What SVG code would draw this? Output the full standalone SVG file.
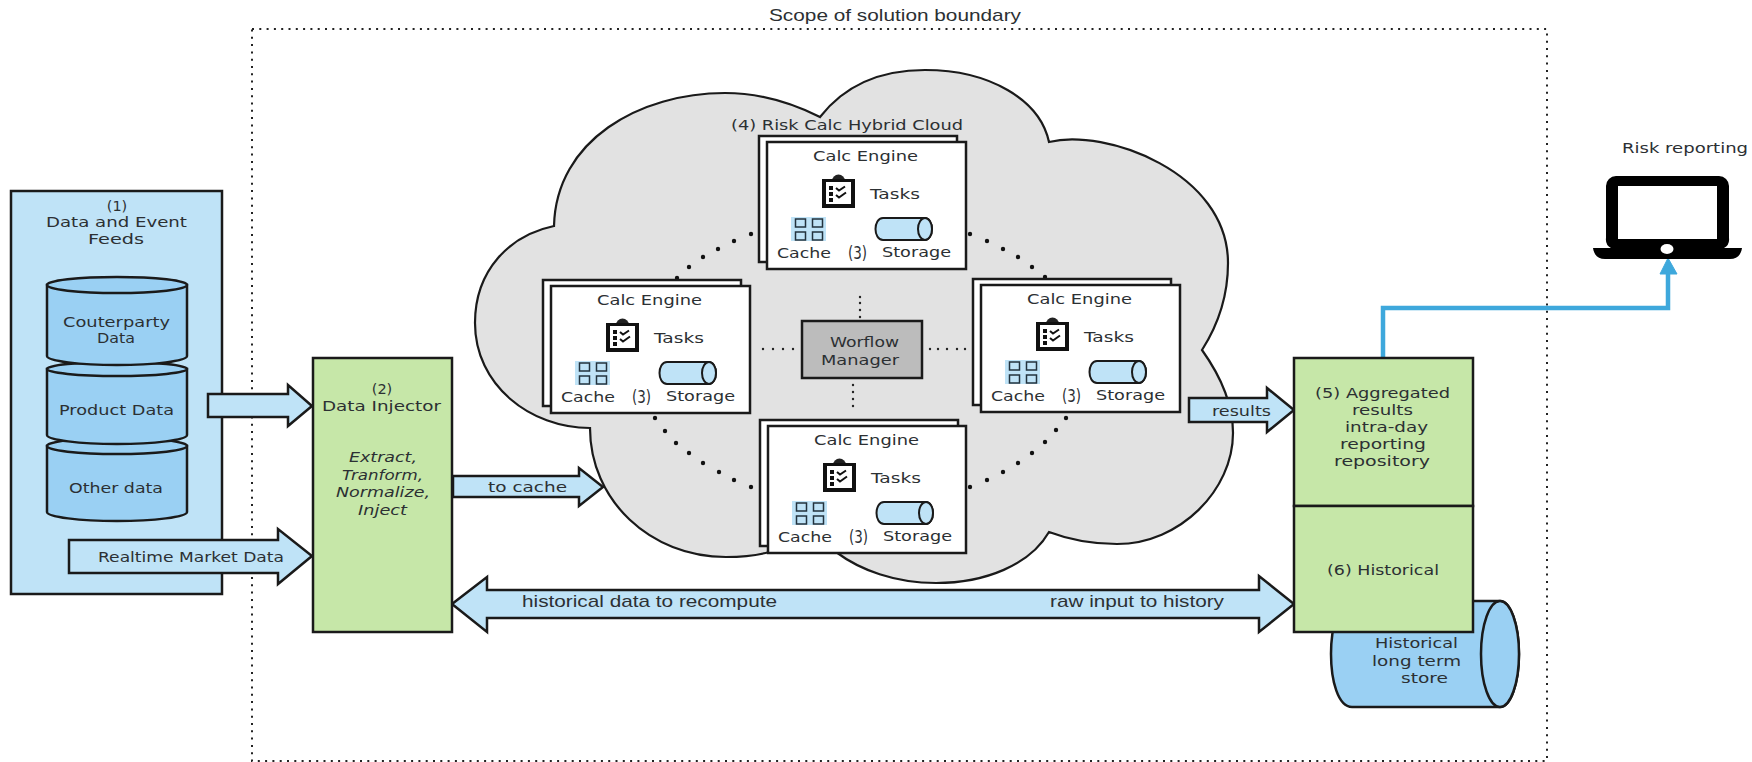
<svg xmlns="http://www.w3.org/2000/svg" xmlns:xlink="http://www.w3.org/1999/xlink" width="1752" height="762" viewBox="0 0 1752 762">
<style>
text{font-family:"DejaVu Sans","Liberation Sans",sans-serif;font-size:14.500px;fill:#2c3033}
.l{font-family:"Liberation Sans",Arial,sans-serif;font-size:17px}
.i{font-style:italic}
.n{font-size:17px}
.box{stroke:#1a1a1a;stroke-width:2.500}
.blue{fill:#bfe3f7}.cyl{fill:#9ad0f3;stroke:#1a1a1a;stroke-width:2.500}
.green{fill:#c6e7a8}.white{fill:#fff}
.arrow{fill:#bfe3f7;stroke:#1a1a1a;stroke-width:2.500;stroke-linejoin:miter}
.big circle{r:2.200px;fill:#111}.small circle{r:1.200px;fill:#222}
</style>
<defs>
<g id="clip">
<circle cx="16.500" cy="6" r="6.500" fill="#222"/>
<rect x="0" y="4" width="33" height="29" fill="#111"/>
<rect x="4" y="7" width="25" height="22" fill="#fff"/>
<path d="M7 11h4v4h-4zM7 17h4v4h-4zM7 23h4v4h-4z" fill="#111"/>
<path d="M14 13l3 2.500 6-4M14 20l3 2.500 7-5" fill="none" stroke="#111" stroke-width="2"/>
</g>
<g id="cache">
<rect width="35" height="24" fill="#bfe3f7"/>
<path d="M4.500 2h10v8h-10zM21.500 2h10v8h-10zM4.500 15h10v8h-10zM21.500 15h10v8h-10z" fill="none" stroke="#23333e" stroke-width="1.500"/>
</g>
<g id="store">
<path d="M8 0H50A7 11 0 0 1 50 22H8C-2 22 -2 0 8 0Z" fill="#bfe3f7" stroke="#1a1a1a" stroke-width="2"/>
<ellipse cx="50" cy="11" rx="7" ry="11" fill="#bfe3f7" stroke="#1a1a1a" stroke-width="2"/>
</g>
</defs>
<rect width="1752" height="762" fill="#fff"/>

<g id="boundary">
<rect x="252" y="29" width="1295" height="732" fill="none" stroke="#222" stroke-width="2" stroke-dasharray="2 5.300"/>
<text class="l" x="769" y="21" textLength="252" lengthAdjust="spacingAndGlyphs">Scope of solution boundary</text>
</g>

<g id="feeds">
<rect class="box blue" x="11" y="191" width="211" height="403"/>
<text x="117" y="211" text-anchor="middle">(1)</text>
<text x="46" y="227" textLength="141" lengthAdjust="spacingAndGlyphs">Data and Event</text>
<text x="88" y="244" textLength="56" lengthAdjust="spacingAndGlyphs">Feeds</text>
</g>
<g id="db-other">
<path class="cyl" d="M47 446V512C47 517 80 521 117 521S187 517 187 512V446Z"/>
<ellipse class="cyl" cx="117" cy="446" rx="70" ry="8"/>
<text x="69" y="493" textLength="94" lengthAdjust="spacingAndGlyphs">Other data</text>
</g>
<g id="db-product">
<path class="cyl" d="M47 369V435C47 440 80 444 117 444S187 440 187 435V369Z"/>
<ellipse class="cyl" cx="117" cy="369" rx="70" ry="7"/>
<text x="59" y="415" textLength="115" lengthAdjust="spacingAndGlyphs">Product Data</text>
</g>
<g id="db-counterparty">
<path class="cyl" d="M47 285V356C47 361 80 365 117 365S187 361 187 356V285Z"/>
<ellipse class="cyl" cx="117" cy="285" rx="70" ry="8"/>
<text x="63" y="327" textLength="107" lengthAdjust="spacingAndGlyphs">Couterparty</text>
<text x="97" y="343" textLength="38" lengthAdjust="spacingAndGlyphs">Data</text>
</g>

<g id="cloud">
<path fill="#e2e2e2" stroke="#1a1a1a" stroke-width="2.200" d="M554 226C556 140 640 93 725 93C760 93 790 102 820 117C845 85 880 70 925 70C990 70 1040 100 1049 142C1105 128 1228 172 1228 263C1228 295 1218 325 1202 350C1222 378 1233 405 1233 433C1233 490 1180 544 1117 544C1094 544 1070 540 1049 532C1030 565 985 583 936 583C895 583 860 570 836 552L790 530L769 552C755 556 740 557 726 557C650 557 590 500 590 428C530 428 475 385 475 323C475 270 510 235 554 226Z"/>
<text x="731" y="130" textLength="232" lengthAdjust="spacingAndGlyphs">(4) Risk Calc Hybrid Cloud</text>
</g>

<g id="connectors">
<g class="big">
<circle cx="751" cy="234"/><circle cx="734" cy="241"/><circle cx="718" cy="249"/><circle cx="703" cy="257"/><circle cx="689" cy="267"/><circle cx="677" cy="278"/>
<circle cx="970" cy="234"/><circle cx="987" cy="241"/><circle cx="1003" cy="249"/><circle cx="1018" cy="257"/><circle cx="1032" cy="267"/><circle cx="1045" cy="277"/>
<circle cx="655" cy="418"/><circle cx="665" cy="431"/><circle cx="676" cy="443"/><circle cx="689" cy="453"/><circle cx="703" cy="463"/><circle cx="719" cy="472"/><circle cx="734" cy="480"/><circle cx="751" cy="487"/>
<circle cx="970" cy="487"/><circle cx="987" cy="480"/><circle cx="1003" cy="472"/><circle cx="1018" cy="463"/><circle cx="1032" cy="453"/><circle cx="1045" cy="442"/><circle cx="1056" cy="430"/><circle cx="1066" cy="418"/>
</g>
<g class="small">
<circle cx="860" cy="297"/><circle cx="860" cy="303"/><circle cx="860" cy="310"/><circle cx="860" cy="317"/>
<circle cx="853" cy="385"/><circle cx="853" cy="392"/><circle cx="853" cy="399"/><circle cx="853" cy="406"/>
<circle cx="763" cy="349"/><circle cx="773" cy="349"/><circle cx="783" cy="349"/><circle cx="793" cy="349"/>
<circle cx="930" cy="349"/><circle cx="938" cy="349"/><circle cx="947" cy="349"/><circle cx="957" cy="349"/><circle cx="965" cy="349"/>
</g>
<path class="arrow" d="M208 394H288V385L312 406L288 426V417H208Z"/>
<path class="arrow" d="M69 540H278V529L312 556L278 584V573H69Z"/>
<path class="arrow" d="M453 476H579V468L603 487L579 506V497H453Z"/>
<path class="arrow" d="M1189 398H1267V388L1294 410L1267 432V422H1189Z"/>
<path class="arrow" d="M452 604L487 577V590H1259V576L1294 604L1259 632V618H487V632Z"/>
<path d="M1383 358V308H1668V272" fill="none" stroke="#3ea8dc" stroke-width="4.500"/>
<path d="M1668 258L1677 274H1660Z" fill="#3ea8dc" stroke="#3ea8dc"/>
<text x="98" y="562" textLength="186" lengthAdjust="spacingAndGlyphs">Realtime Market Data</text>
<text x="488" y="492" textLength="79" lengthAdjust="spacingAndGlyphs">to cache</text>
<text x="1212" y="416" textLength="59" lengthAdjust="spacingAndGlyphs">results</text>
<text class="l" x="522" y="607" textLength="255" lengthAdjust="spacingAndGlyphs">historical data to recompute</text>
<text class="l" x="1050" y="607" textLength="174" lengthAdjust="spacingAndGlyphs">raw input to history</text>
</g>

<g id="injector">
<rect class="box green" x="313" y="358" width="139" height="274"/>
<text x="382" y="394" text-anchor="middle">(2)</text>
<text x="322" y="411" textLength="119" lengthAdjust="spacingAndGlyphs">Data Injector</text>
<text class="i" x="349" y="462" textLength="68" lengthAdjust="spacingAndGlyphs">Extract,</text>
<text class="i" x="342" y="480" textLength="81" lengthAdjust="spacingAndGlyphs">Tranform,</text>
<text class="i" x="336" y="497" textLength="94" lengthAdjust="spacingAndGlyphs">Normalize,</text>
<text class="i" x="358" y="515" textLength="49" lengthAdjust="spacingAndGlyphs">Inject</text>
</g>

<g id="engine-top" transform="translate(767 142)">
<rect class="box white" x="-8" y="-6" width="198" height="126"/>
<rect class="box white" width="199" height="127"/>
<text x="46" y="19" textLength="105" lengthAdjust="spacingAndGlyphs">Calc Engine</text>
<use href="#clip" xlink:href="#clip" x="55" y="33"/>
<text x="103" y="57" textLength="50" lengthAdjust="spacingAndGlyphs">Tasks</text>
<use href="#cache" xlink:href="#cache" x="24" y="75"/>
<use href="#store" xlink:href="#store" x="108" y="76"/>
<text x="10" y="116" textLength="54" lengthAdjust="spacingAndGlyphs">Cache</text>
<text class="n" x="81" y="117" textLength="19" lengthAdjust="spacingAndGlyphs">(3)</text>
<text x="115" y="115" textLength="69" lengthAdjust="spacingAndGlyphs">Storage</text>
</g>
<g id="engine-left" transform="translate(551 286)">
<rect class="box white" x="-8" y="-6" width="198" height="126"/>
<rect class="box white" width="199" height="127"/>
<text x="46" y="19" textLength="105" lengthAdjust="spacingAndGlyphs">Calc Engine</text>
<use href="#clip" xlink:href="#clip" x="55" y="33"/>
<text x="103" y="57" textLength="50" lengthAdjust="spacingAndGlyphs">Tasks</text>
<use href="#cache" xlink:href="#cache" x="24" y="75"/>
<use href="#store" xlink:href="#store" x="108" y="76"/>
<text x="10" y="116" textLength="54" lengthAdjust="spacingAndGlyphs">Cache</text>
<text class="n" x="81" y="117" textLength="19" lengthAdjust="spacingAndGlyphs">(3)</text>
<text x="115" y="115" textLength="69" lengthAdjust="spacingAndGlyphs">Storage</text>
</g>
<g id="engine-right" transform="translate(981 285)">
<rect class="box white" x="-8" y="-6" width="198" height="126"/>
<rect class="box white" width="199" height="127"/>
<text x="46" y="19" textLength="105" lengthAdjust="spacingAndGlyphs">Calc Engine</text>
<use href="#clip" xlink:href="#clip" x="55" y="33"/>
<text x="103" y="57" textLength="50" lengthAdjust="spacingAndGlyphs">Tasks</text>
<use href="#cache" xlink:href="#cache" x="24" y="75"/>
<use href="#store" xlink:href="#store" x="108" y="76"/>
<text x="10" y="116" textLength="54" lengthAdjust="spacingAndGlyphs">Cache</text>
<text class="n" x="81" y="117" textLength="19" lengthAdjust="spacingAndGlyphs">(3)</text>
<text x="115" y="115" textLength="69" lengthAdjust="spacingAndGlyphs">Storage</text>
</g>
<g id="engine-bottom" transform="translate(768 426)">
<rect class="box white" x="-8" y="-6" width="198" height="126"/>
<rect class="box white" width="198" height="127"/>
<text x="46" y="19" textLength="105" lengthAdjust="spacingAndGlyphs">Calc Engine</text>
<use href="#clip" xlink:href="#clip" x="55" y="33"/>
<text x="103" y="57" textLength="50" lengthAdjust="spacingAndGlyphs">Tasks</text>
<use href="#cache" xlink:href="#cache" x="24" y="75"/>
<use href="#store" xlink:href="#store" x="108" y="76"/>
<text x="10" y="116" textLength="54" lengthAdjust="spacingAndGlyphs">Cache</text>
<text class="n" x="81" y="117" textLength="19" lengthAdjust="spacingAndGlyphs">(3)</text>
<text x="115" y="115" textLength="69" lengthAdjust="spacingAndGlyphs">Storage</text>
</g>

<g id="workflow">
<rect class="box" x="802" y="321" width="120" height="57" fill="#bcbcbc"/>
<text x="830" y="347" textLength="69" lengthAdjust="spacingAndGlyphs">Worflow</text>
<text x="821" y="365" textLength="78" lengthAdjust="spacingAndGlyphs">Manager</text>
</g>

<g id="longterm">
<path class="cyl" d="M1352 601H1500A19 53 0 0 1 1500 707H1352C1324 707 1324 601 1352 601Z"/>
<ellipse class="cyl" cx="1500" cy="654" rx="19" ry="53"/>
<text x="1375" y="648" textLength="83" lengthAdjust="spacingAndGlyphs">Historical</text>
<text x="1372" y="666" textLength="89" lengthAdjust="spacingAndGlyphs">long term</text>
<text x="1401" y="683" textLength="47" lengthAdjust="spacingAndGlyphs">store</text>
</g>

<g id="aggregated">
<rect class="box green" x="1294" y="358" width="179" height="148"/>
<text x="1315" y="398" textLength="135" lengthAdjust="spacingAndGlyphs">(5) Aggregated</text>
<text x="1352" y="415" textLength="61" lengthAdjust="spacingAndGlyphs">results</text>
<text x="1345" y="432" textLength="83" lengthAdjust="spacingAndGlyphs">intra-day</text>
<text x="1340" y="449" textLength="86" lengthAdjust="spacingAndGlyphs">reporting</text>
<text x="1334" y="466" textLength="96" lengthAdjust="spacingAndGlyphs">repository</text>
</g>
<g id="historical">
<rect class="box green" x="1294" y="506" width="179" height="126"/>
<text x="1327" y="575" textLength="112" lengthAdjust="spacingAndGlyphs">(6) Historical</text>
</g>

<g id="laptop">
<text x="1622" y="153" textLength="126" lengthAdjust="spacingAndGlyphs">Risk reporting</text>
<path fill-rule="evenodd" fill="#000" d="M1616 176H1719A10 10 0 0 1 1729 186V238A10 10 0 0 1 1724 248H1742C1741 255 1737 259 1730 259H1605C1598 259 1594 255 1593 248H1611A10 10 0 0 1 1606 238V186A10 10 0 0 1 1616 176ZM1618 186V239H1717V186Z"/>
<ellipse cx="1667" cy="249" rx="6.500" ry="5" fill="#fff"/>
</g>
</svg>
